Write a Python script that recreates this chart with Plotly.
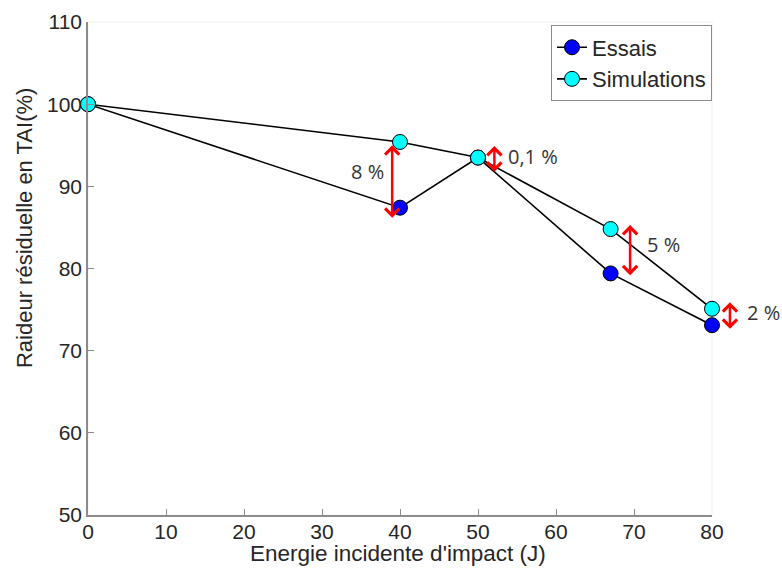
import plotly.graph_objects as go

energie = [0, 40, 50, 67, 80]
essais = [100, 87.4, 93.5, 79.4, 73.1]
simulations = [100, 95.4, 93.5, 84.8, 75.1]

# difference arrows: x position, top, bottom; labels with their positions
arrow_x = [39.0, 52.1, 69.5, 82.3]
arrow_top = [95.0, 94.9, 85.3, 75.9]
arrow_bot = [86.0, 91.6, 79.0, 72.5]
arrow_lbl = ["8 %", "0,1 %", "5 %", "2 %"]
lbl_x = [35.8, 57.0, 73.8, 86.6]
lbl_y = [91.75, 93.6, 82.9, 74.6]

XMIN, XMAX = 0, 80
YMIN, YMAX = 50, 110
TXT = "#262626"
AX = "#8c8c8c"
W, H = 782, 568
ML, MR, MT, MB = 88, 70, 22, 53
plot_h = H - MT - MB

fig = go.Figure()
fig.add_trace(go.Scatter(
    x=energie, y=essais, name="Essais", mode="lines+markers",
    line=dict(color="black", width=1.6),
    marker=dict(size=15, color="#0000ff", line=dict(color="black", width=1)),
    cliponaxis=False,
))
fig.add_trace(go.Scatter(
    x=energie, y=simulations, name="Simulations", mode="lines+markers",
    line=dict(color="black", width=1.6),
    marker=dict(size=15, color="#00ffff", line=dict(color="black", width=1)),
    cliponaxis=False,
))


def xpaper(v):
    return (v - XMIN) / (XMAX - XMIN)


for xa, t, b in zip(arrow_x, arrow_top, arrow_bot):
    fig.add_annotation(
        x=xpaper(xa), y=t, xref="paper", yref="y",
        ax=0, ay=(t - b) / (YMAX - YMIN) * plot_h, axref="pixel", ayref="pixel",
        showarrow=True, arrowhead=4, arrowside="end+start", arrowsize=1.1,
        arrowwidth=2.5, arrowcolor="#ff0000", text="",
    )
for lab, lx, ly in zip(arrow_lbl, lbl_x, lbl_y):
    fig.add_annotation(
        x=xpaper(lx), y=ly, xref="paper", yref="y", text=lab, showarrow=False,
        xanchor="center", yanchor="middle",
        font=dict(family="Open Sans", size=20, color="#333333"),
    )

# axis titles
fig.add_annotation(
    x=0.496, y=-0.078, xref="paper", yref="paper", xanchor="center", yanchor="middle",
    text="Energie incidente d'impact (J)", showarrow=False,
    font=dict(family="Liberation Sans, Arial", size=22.5, color=TXT),
)
fig.add_annotation(
    x=-0.1026, y=0.582, xref="paper", yref="paper", xanchor="center", yanchor="middle",
    text="Raideur résiduelle en TAI(%)", showarrow=False, textangle=-90,
    font=dict(family="Liberation Sans, Arial", size=22, color=TXT),
)

fig.update_layout(
    width=W, height=H,
    margin=dict(l=ML, r=MR, t=MT, b=MB, autoexpand=False),
    paper_bgcolor="white", plot_bgcolor="white",
    font=dict(family="Liberation Sans, Arial", color=TXT),
    showlegend=True,
    legend=dict(
        x=1.0, y=0.993, xanchor="right", yanchor="top",
        bordercolor="#8c8c8c", borderwidth=1, bgcolor="white",
        font=dict(size=22, color=TXT),
        tracegroupgap=0,
    ),
    xaxis=dict(
        range=[XMIN, XMAX], tickvals=[0, 10, 20, 30, 40, 50, 60, 70, 80],
        showgrid=False, zeroline=False, showline=True, linecolor=AX,
        linewidth=1.5, ticks="inside", tickcolor=AX, ticklen=6,
        tickfont=dict(size=21, color=TXT), automargin=False,
        ticklabelstandoff=-3,
    ),
    yaxis=dict(
        range=[YMIN, YMAX], tickvals=[50, 60, 70, 80, 90, 100, 110],
        showgrid=False, zeroline=False, showline=True, linecolor=AX,
        linewidth=1.5, ticks="inside", tickcolor=AX, ticklen=6,
        tickfont=dict(size=21, color=TXT), automargin=False,
    ),
)
fig.add_shape(type="rect", xref="paper", yref="paper", x0=0, y0=0, x1=1, y1=1,
              line=dict(color="#f0f0f0", width=1), layer="below")

fig.write_html(
    "out.html",
    config={"displayModeBar": False},
    post_script="document.body.style.margin='0';document.body.style.overflow='hidden';",
)
